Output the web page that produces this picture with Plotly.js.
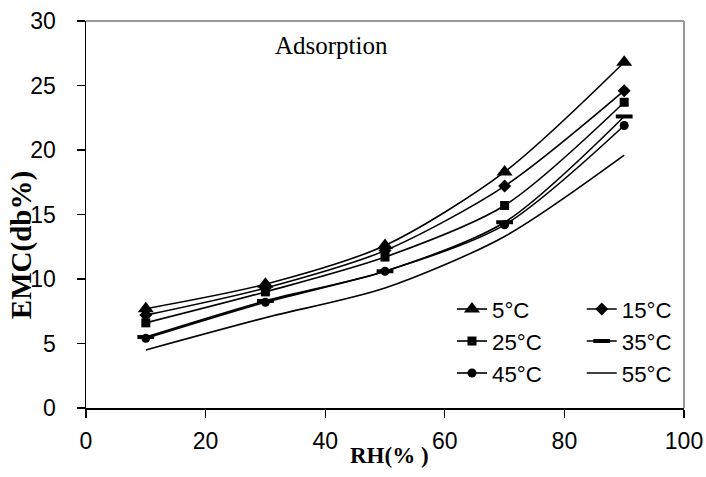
<!DOCTYPE html>
<html>
<head>
<meta charset="utf-8">
<script src="https://cdn.plot.ly/plotly-3.0.1.min.js"></script>
<style>
html,body{margin:0;padding:0;background:#fff;}
#chart{width:706px;height:477px;}
</style>
</head>
<body>
<div id="chart"></div>
<script>
// RH (%) values
var rh = [10, 30, 50, 70, 90];
// EMC (db%) per temperature
var emc5  = [7.7, 9.6, 12.6, 18.3, 26.8];
var emc15 = [7.2, 9.3, 12.2, 17.2, 24.6];
var emc25 = [6.6, 9.0, 11.7, 15.7, 23.7];
var emc35 = [5.5, 8.3, 10.6, 14.4, 22.6];
var emc45 = [5.4, 8.2, 10.6, 14.2, 21.9];
var emc55 = [4.5, 7.0, 9.3, 13.3, 19.6];
var seriesNames = ["5°C", "15°C", "25°C", "35°C", "45°C", "55°C"];
var xTicks = [0, 20, 40, 60, 80, 100];
var yTicks = [0, 5, 10, 15, 20, 25, 30];

var all = [emc5, emc15, emc25, emc35, emc45, emc55];
var symbols = ["triangle-up", "diamond", "square", "line-ew", "circle", null];
var sizes = [14, 10, 9, 12, 9, 0];
var legendOf = ["legend", "legend2", "legend", "legend2", "legend", "legend2"];

var traces = all.map(function (ys, i) {
  var t = {
    x: rh, y: ys, name: seriesNames[i], type: "scatter",
    mode: symbols[i] ? "lines+markers" : "lines",
    line: {color: "#000", width: 1.6, shape: "spline", smoothing: 0.8},
    legend: legendOf[i],
    legendgroup: "g" + i
  };
  if (symbols[i]) {
    t.marker = {symbol: symbols[i], size: sizes[i], color: "#000",
      line: {color: "#000", width: symbols[i] === "line-ew" ? 4 : 0}};
  }
  return t;
});

var tickFont = {family: "Liberation Sans, Arial, sans-serif", size: 23, color: "#000"};
var legendFont = {family: "Liberation Sans, Arial, sans-serif", size: 22.3, color: "#000"};
var serifBold = "Liberation Serif, Times New Roman, serif";

var layout = {
  width: 706, height: 477,
  margin: {l: 86, r: 22, t: 21, b: 69},
  paper_bgcolor: "#fff", plot_bgcolor: "#fff",
  showlegend: true,
  xaxis: {
    range: [0, 100], tickvals: xTicks, ticktext: xTicks.map(String),
    showgrid: false, zeroline: false, showline: true, linecolor: "#000", linewidth: 1.5,
    ticks: "outside", ticklen: 8, tickcolor: "#000", tickwidth: 1.2,
    tickfont: tickFont, ticklabelstandoff: 4
  },
  yaxis: {
    range: [0, 30], tickvals: yTicks, ticktext: yTicks.map(String),
    showgrid: false, zeroline: false, showline: true, linecolor: "#000", linewidth: 1.5,
    ticks: "outside", ticklen: 8, tickcolor: "#000", tickwidth: 1.2,
    tickfont: tickFont, ticklabelstandoff: 16
  },
  legend: {
    x: 0.612, y: 0.31, xanchor: "left", yanchor: "top",
    font: legendFont, bgcolor: "rgba(0,0,0,0)", traceorder: "grouped", tracegroupgap: 0,
    itemwidth: 30
  },
  legend2: {
    x: 0.829, y: 0.31, xanchor: "left", yanchor: "top",
    font: legendFont, bgcolor: "rgba(0,0,0,0)", traceorder: "grouped", tracegroupgap: 0,
    itemwidth: 30
  },
  shapes: [
    {type: "line", xref: "paper", yref: "paper", x0: 0, x1: 1, y0: 1, y1: 1, line: {color: "#999", width: 2}},
    {type: "line", xref: "paper", yref: "paper", x0: 1, x1: 1, y0: 0, y1: 1, line: {color: "#999", width: 2}}
  ],
  annotations: [
    {text: "Adsorption", xref: "paper", yref: "paper", x: 0.41, y: 0.937, showarrow: false,
     xanchor: "center", yanchor: "middle",
     font: {family: serifBold, size: 25, color: "#000"}},
    {text: "<b>EMC(db%)</b>", xref: "paper", yref: "paper", textangle: -90,
     x: (21 - 86) / 598, y: (408 - 245) / 387.3, showarrow: false,
     xanchor: "center", yanchor: "middle",
     font: {family: serifBold, size: 29, color: "#000"}},
    {text: "<b>RH(% )</b>", xref: "paper", yref: "paper",
     x: (389 - 86) / 598, y: (408 - 456) / 387.3, showarrow: false,
     xanchor: "center", yanchor: "middle",
     font: {family: serifBold, size: 23, color: "#000"}}
  ]
};

Plotly.newPlot("chart", traces, layout, {displayModeBar: false, staticPlot: true});
</script>
</body>
</html>
